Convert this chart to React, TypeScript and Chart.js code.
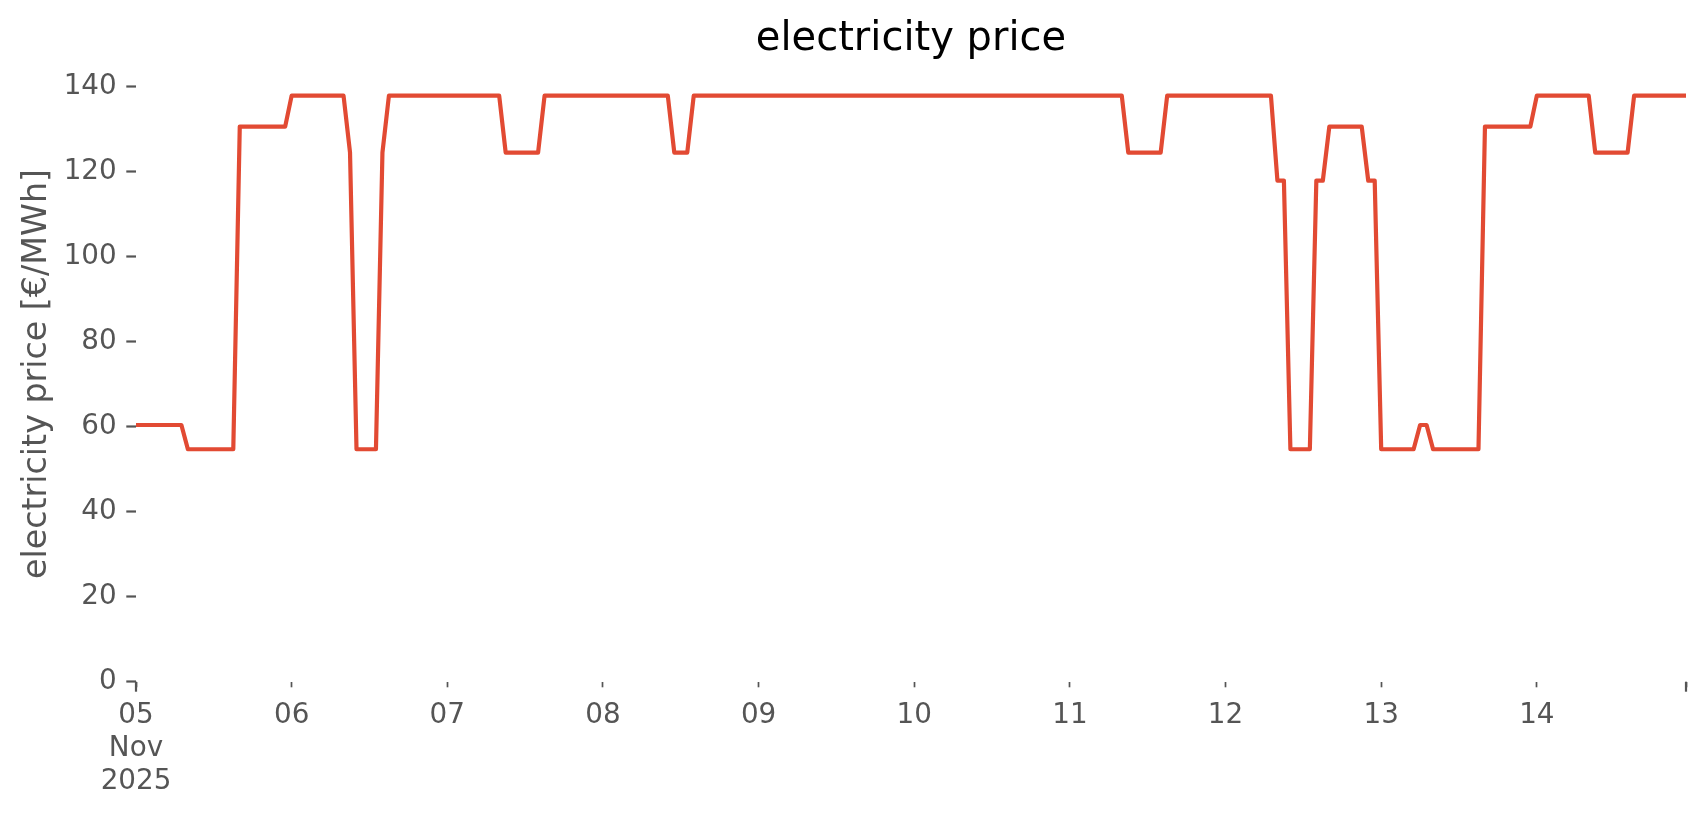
import React, { useEffect, useRef } from "react";
import { Chart, registerables } from "chart.js";

Chart.register(...registerables);

// Hourly electricity price [€/MWh], 00:00 … 23:00 for each day of Nov 2025
const nov05 = [60.4, 60.4, 60.4, 60.4, 60.4, 60.4, 60.4, 60.4, 54.7, 54.7, 54.7, 54.7, 54.7, 54.7, 54.7, 54.7, 130.6, 130.6, 130.6, 130.6, 130.6, 130.6, 130.6, 130.6];
const nov06 = [137.9, 137.9, 137.9, 137.9, 137.9, 137.9, 137.9, 137.9, 137.9, 124.5, 54.7, 54.7, 54.7, 54.7, 124.5, 137.9, 137.9, 137.9, 137.9, 137.9, 137.9, 137.9, 137.9, 137.9];
const nov07 = [137.9, 137.9, 137.9, 137.9, 137.9, 137.9, 137.9, 137.9, 137.9, 124.5, 124.5, 124.5, 124.5, 124.5, 124.5, 137.9, 137.9, 137.9, 137.9, 137.9, 137.9, 137.9, 137.9, 137.9];
const nov08 = [137.9, 137.9, 137.9, 137.9, 137.9, 137.9, 137.9, 137.9, 137.9, 137.9, 137.9, 124.5, 124.5, 124.5, 137.9, 137.9, 137.9, 137.9, 137.9, 137.9, 137.9, 137.9, 137.9, 137.9];
const nov09 = [137.9, 137.9, 137.9, 137.9, 137.9, 137.9, 137.9, 137.9, 137.9, 137.9, 137.9, 137.9, 137.9, 137.9, 137.9, 137.9, 137.9, 137.9, 137.9, 137.9, 137.9, 137.9, 137.9, 137.9];
const nov10 = [137.9, 137.9, 137.9, 137.9, 137.9, 137.9, 137.9, 137.9, 137.9, 137.9, 137.9, 137.9, 137.9, 137.9, 137.9, 137.9, 137.9, 137.9, 137.9, 137.9, 137.9, 137.9, 137.9, 137.9];
const nov11 = [137.9, 137.9, 137.9, 137.9, 137.9, 137.9, 137.9, 137.9, 137.9, 124.5, 124.5, 124.5, 124.5, 124.5, 124.5, 137.9, 137.9, 137.9, 137.9, 137.9, 137.9, 137.9, 137.9, 137.9];
const nov12 = [137.9, 137.9, 137.9, 137.9, 137.9, 137.9, 137.9, 137.9, 117.9, 117.9, 54.7, 54.7, 54.7, 54.7, 117.9, 117.9, 130.6, 130.6, 130.6, 130.6, 130.6, 130.6, 117.9, 117.9];
const nov13 = [54.7, 54.7, 54.7, 54.7, 54.7, 54.7, 60.4, 60.4, 54.7, 54.7, 54.7, 54.7, 54.7, 54.7, 54.7, 54.7, 130.6, 130.6, 130.6, 130.6, 130.6, 130.6, 130.6, 130.6];
const nov14 = [137.9, 137.9, 137.9, 137.9, 137.9, 137.9, 137.9, 137.9, 137.9, 124.5, 124.5, 124.5, 124.5, 124.5, 124.5, 137.9, 137.9, 137.9, 137.9, 137.9, 137.9, 137.9, 137.9, 137.9];

const days = [nov05, nov06, nov07, nov08, nov09, nov10, nov11, nov12, nov13, nov14];

// x tick positions (hours since 05 Nov 00:00) and labels
const dayStartHours = [0, 24, 48, 72, 96, 120, 144, 168, 192, 216];
const dayLabels: (string | string[])[] = [["05", "Nov", "2025"], "06", "07", "08", "09", "10", "11", "12", "13", "14"];
const yTicks = [0, 20, 40, 60, 80, 100, 120, 140];

const FONT = "'DejaVu Sans', sans-serif";
const GREY = "#555555";
const LINE = "#E24A33";

const majorTickPlugin = {
  id: "majorTicks",
  afterDraw(chart: any) {
    const xs = chart.scales.x;
    const ctx = chart.ctx;
    ctx.save();
    ctx.strokeStyle = GREY;
    ctx.lineWidth = 2.2;
    [xs.min, xs.max].forEach((v: number) => {
      const px = xs.getPixelForValue(v);
      ctx.beginPath();
      ctx.moveTo(px, xs.top);
      ctx.lineTo(px, xs.top + 10);
      ctx.stroke();
    });
    ctx.restore();
  },
};

export default function App() {
  const ref = useRef<HTMLCanvasElement>(null);

  useEffect(() => {
    const values = days.flat();
    const data = values.map((v, i) => ({ x: i, y: v }));
    const lastHour = values.length - 1;
    const xTickVals = [...dayStartHours, lastHour];

    const chart = new Chart(ref.current!, {
      type: "line",
      data: {
        datasets: [
          {
            data,
            borderColor: LINE,
            borderWidth: 4.2,
            pointRadius: 0,
            tension: 0,
            borderJoinStyle: "round",
            borderCapStyle: "butt",
            fill: false,
          },
        ],
      },
      options: {
        animation: false,
        responsive: false,
        devicePixelRatio: 1,
        layout: { padding: { left: 0, right: 20, top: 0, bottom: 0 } },
        plugins: {
          legend: { display: false },
          tooltip: { enabled: false },
          title: {
            display: true,
            text: "electricity price",
            color: "#000000",
            fullSize: false,
            font: { family: FONT, size: 40, weight: "normal", lineHeight: 1.2 },
            padding: { top: 16, bottom: 2.3 },
          },
        },
        scales: {
          x: {
            type: "linear",
            min: 0,
            max: lastHour,
            afterFit: (s: any) => {
              s.height = 133.3;
            },
            afterBuildTicks: (s: any) => {
              s.ticks = xTickVals.map((v) => ({ value: v }));
            },
            border: { display: false },
            grid: {
              display: true,
              drawOnChartArea: false,
              drawTicks: true,
              tickLength: 5.6,
              tickWidth: 1.7,
              tickColor: GREY,
            },
            ticks: {
              autoSkip: false,
              maxRotation: 0,
              minRotation: 0,
              padding: 11.5,
              color: GREY,
              font: { family: FONT, size: 27.8, lineHeight: 1.2 },
              callback: (value: any) => {
                const idx = dayStartHours.indexOf(Number(value));
                return idx >= 0 ? dayLabels[idx] : "";
              },
            },
          },
          y: {
            type: "linear",
            min: 0,
            max: 144.8,
            afterFit: (s: any) => {
              s.width = 136;
            },
            afterBuildTicks: (s: any) => {
              s.ticks = yTicks.map((v) => ({ value: v }));
            },
            border: { display: false },
            grid: {
              display: true,
              drawOnChartArea: false,
              drawTicks: true,
              tickLength: 9.7,
              tickWidth: 2.2,
              tickColor: GREY,
            },
            ticks: {
              padding: 9.6,
              color: GREY,
              font: { family: FONT, size: 27.8, lineHeight: 1.2 },
            },
            title: {
              display: true,
              text: "electricity price [€/MWh]",
              color: GREY,
              font: { family: FONT, size: 33.3, lineHeight: 1.2 },
              padding: { top: 17, bottom: 0 },
            },
          },
        },
      },
      plugins: [majorTickPlugin],
    });
    return () => chart.destroy();
  }, []);

  return (
    <div style={{ position: "absolute", left: 0, top: 0, width: 1706, height: 815, background: "#ffffff" }}>
      <canvas ref={ref} width={1706} height={815} style={{ width: 1706, height: 815, display: "block" }} />
    </div>
  );
}
